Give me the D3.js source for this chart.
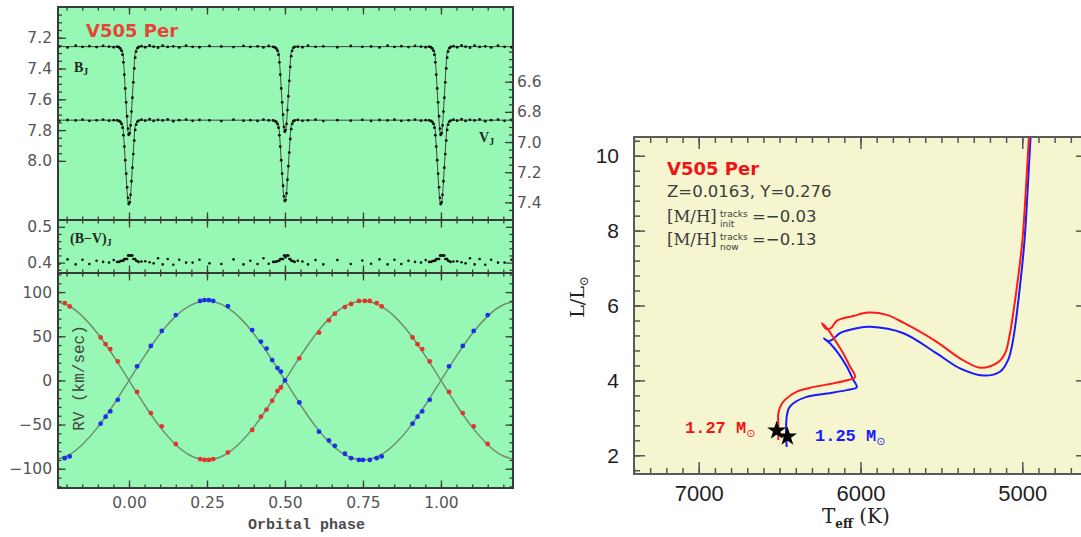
<!DOCTYPE html>
<html><head><meta charset="utf-8">
<script src="https://cdn.jsdelivr.net/npm/d3@7/dist/d3.min.js"></script>
<style>html,body{margin:0;padding:0;background:#fff;}svg{display:block;}</style>
</head><body>
<svg id="chart" width="1081" height="537"></svg>
<script>
// ================= DATA =================
// Light-curve model: eclipse profiles (phase offset from eclipse centre -> magnitude)
const ecOffset   = [-0.04,-0.03,-0.023,-0.019,-0.016,-0.012,-0.008,-0.004,0,0.004,0.008,0.012,0.016,0.019,0.023,0.03,0.04];
const bPrimary   = [7.258,7.262,7.275,7.31,7.40,7.54,7.68,7.80,7.84,7.80,7.68,7.54,7.40,7.31,7.275,7.262,7.258];
const bSecondary = [7.258,7.262,7.275,7.31,7.40,7.53,7.67,7.78,7.82,7.78,7.67,7.53,7.40,7.31,7.275,7.262,7.258];
const vPrimary   = [6.855,6.859,6.872,6.906,6.993,7.129,7.265,7.381,7.42,7.381,7.265,7.129,6.993,6.906,6.872,6.859,6.855];
const vSecondary = [6.855,6.859,6.872,6.906,6.993,7.12,7.255,7.36,7.40,7.36,7.255,7.12,6.993,6.906,6.872,6.859,6.855];
const eclipseCenters = [0, 0.5, 1.0];
const bOutside = 7.258, vOutside = 6.855;

// Light-curve observations (phase, B_J, V_J)
const lcPhase = [0.962,0.968,0.972,0.976,0.979,0.982,0.985,0.988,0.991,0.994,0.997,0.999,0.002,0.005,0.008,0.011,0.014,0.017,0.020,0.023,0.027,0.031,
  0.462,0.468,0.472,0.476,0.479,0.482,0.485,0.488,0.491,0.494,0.497,0.499,0.502,0.505,0.508,0.511,0.514,0.517,0.520,0.523,0.527,0.531,
  0.040,0.052,0.066,0.079,0.093,0.108,0.124,0.142,0.161,0.183,0.204,0.226,0.258,0.296,0.335,0.367,0.389,0.412,0.431,0.448,
  0.541,0.556,0.574,0.598,0.623,0.668,0.711,0.748,0.776,0.803,0.829,0.851,0.873,0.896,0.917,0.936,0.951];
const lcB = [7.258,7.262,7.270,7.285,7.31,7.36,7.44,7.53,7.62,7.71,7.79,7.83,7.82,7.77,7.68,7.59,7.49,7.40,7.33,7.29,7.268,7.260,
  7.259,7.263,7.27,7.285,7.31,7.36,7.44,7.53,7.62,7.70,7.78,7.81,7.80,7.76,7.67,7.58,7.48,7.39,7.32,7.285,7.266,7.259,
  7.255,7.262,7.250,7.258,7.265,7.252,7.260,7.256,7.263,7.251,7.259,7.262,7.254,7.257,7.261,7.253,7.260,7.256,7.263,7.254,
  7.258,7.262,7.251,7.259,7.256,7.262,7.254,7.259,7.257,7.263,7.252,7.260,7.255,7.261,7.253,7.258,7.262];
const lcV = [6.856,6.860,6.866,6.880,6.905,6.955,7.03,7.12,7.21,7.30,7.37,7.41,7.40,7.35,7.26,7.17,7.08,6.99,6.92,6.885,6.864,6.858,
  6.857,6.861,6.867,6.881,6.905,6.955,7.03,7.12,7.21,7.29,7.36,7.39,7.385,7.34,7.25,7.16,7.07,6.98,6.915,6.88,6.862,6.857,
  6.852,6.858,6.849,6.860,6.853,6.857,6.850,6.862,6.855,6.851,6.859,6.854,6.856,6.861,6.852,6.858,6.855,6.860,6.851,6.857,
  6.853,6.859,6.856,6.852,6.861,6.855,6.858,6.853,6.860,6.854,6.857,6.852,6.859,6.856,6.851,6.858,6.855];

// Radial velocities (km/s): primary (blue) and secondary (red)
const rvPhaseBlue = [0.026,0.07,0.105,0.15,0.228,0.242,0.256,0.27,0.317,0.395,0.423,0.441,0.459,0.476,0.487,0.50,0.546,0.609,0.641,0.66,0.692,0.712,0.737,0.75,0.772,0.794,0.81,0.909,0.925,0.940,0.964];
const rvBlue      = [16,39,56,74,90,91,91,90,84,57,44,36,23,14,10,0,-25,-58,-68,-74,-83,-88,-90,-90,-90,-88,-86,-49,-41,-35,-22];
const rvPhaseRed  = [0.026,0.07,0.105,0.15,0.228,0.242,0.256,0.27,0.317,0.395,0.423,0.441,0.459,0.476,0.487,0.546,0.609,0.641,0.66,0.692,0.712,0.737,0.756,0.772,0.794,0.81,0.909,0.925,0.940,0.964];
const rvRed       = [-13,-37,-52,-72,-89,-90,-90,-89,-81.5,-56,-41,-33,-23,-12,-8,25,54,68,75.5,83,86.5,90,90,90,87.6,83.8,48.7,41,35.5,21.5];
// Orbit model curves
const rvModelPhase = [-0.25,-0.20,-0.15,-0.10,-0.05,0,0.05,0.10,0.15,0.20,0.25,0.30,0.35,0.40,0.45,0.50,0.55,0.60,0.65,0.70,0.75,0.80,0.85,0.90,0.95,1.00,1.05,1.10,1.15,1.20,1.25];
const rvModelBlue  = [-90,-85.6,-72.8,-52.9,-27.8,0,27.8,52.9,72.8,85.6,90,85.6,72.8,52.9,27.8,0,-27.8,-52.9,-72.8,-85.6,-90,-85.6,-72.8,-52.9,-27.8,0,27.8,52.9,72.8,85.6,90];
const rvModelRed   = [90,85.6,72.8,52.9,27.8,0,-27.8,-52.9,-72.8,-85.6,-90,-85.6,-72.8,-52.9,-27.8,0,27.8,52.9,72.8,85.6,90,85.6,72.8,52.9,27.8,0,-27.8,-52.9,-72.8,-85.6,-90];

// HR diagram: evolutionary tracks (Teff K, L/Lsun)
const trackRedT = [6508,6508,6508,6491,6467,6394,6292,6168,6096,6034,6065,6106,6158,6199,6238,6210,6182,6147,6044,5952,5838,5735,5529,5385,5261,5158,5107,5076,5036,4999,4977,4960,4954];
const trackRedL = [2.41,2.81,3.12,3.34,3.48,3.70,3.82,3.92,3.99,4.09,4.37,4.72,5.08,5.35,5.53,5.37,5.40,5.59,5.72,5.81,5.75,5.54,5.03,4.59,4.34,4.46,4.72,5.26,6.41,7.75,9.16,10.42,10.74];
const trackBlueT = [6456,6460,6456,6442,6415,6333,6209,6085,6023,6044,6085,6137,6189,6226,6201,6176,6127,6023,5941,5735,5529,5385,5241,5138,5088,5057,5017,4986,4966,4950,4945];
const trackBlueL = [2.22,2.59,3.03,3.26,3.39,3.56,3.65,3.74,3.82,4.01,4.37,4.72,4.99,5.12,5.05,5.08,5.26,5.39,5.43,5.26,4.72,4.32,4.13,4.23,4.54,5.08,6.41,7.75,9.16,10.42,10.74];
const starT = [6518, 6452];
const starL = [2.66, 2.50];

// Tick labels
const bTicks = [7.2,7.4,7.6,7.8,8.0];
const vTicks = [6.6,6.8,7.0,7.2,7.4];
const bvTicks = [0.4,0.5];
const rvTicks = [-100,-50,0,50,100];
const phaseTicks = [0,0.25,0.5,0.75,1.0];
const teffTicks = [5000,6000,7000];
const lumTicks = [2,4,6,8,10];

// ================= DRAWING =================
const svg = d3.select("#chart");
const GREEN = "#97f7b4", YELLOW = "#f5f5cf";
const numFont = "DejaVu Sans";

// ---- Left panel geometry ----
const LX0 = 58, LX1 = 513, LY0 = 7, LD1 = 220, LD2 = 273, LY1 = 488;
const phDom = [-0.2276, 1.231];
const dataMax = 1.2;   // observations are plotted up to this phase
const xPh = d3.scaleLinear().domain(phDom).range([LX0, LX1]);
const yB  = d3.scaleLinear().domain([7.0006, 8.384]).range([LY0, LD1]);
const yV  = d3.scaleLinear().domain([6.1045, 7.517]).range([LY0, LD1]);
const yBV = d3.scaleLinear().domain([0.371, 0.519]).range([LD2, LD1]);
const yRV = d3.scaleLinear().domain([-121.8, 121.6]).range([LY1, LD2]);

const defs = svg.append("defs");
function clip(id, x, y, w, h){ defs.append("clipPath").attr("id", id).append("rect").attr("x",x).attr("y",y).attr("width",w).attr("height",h); }
clip("cLC", LX0, LY0, LX1-LX0, LD1-LY0);
clip("cBV", LX0, LD1, LX1-LX0, LD2-LD1);
clip("cRV", LX0, LD2, LX1-LX0, LY1-LD2);

svg.append("rect").attr("x",LX0).attr("y",LY0).attr("width",LX1-LX0).attr("height",LY1-LY0).attr("fill",GREEN);

function tickAxis(axisFn, scale, values, size, tx, ty, color, w){
  const a = axisFn(scale).tickValues(values).tickSize(size).tickFormat("");
  const g = svg.append("g").attr("transform", `translate(${tx},${ty})`).call(a);
  g.select(".domain").remove();
  g.selectAll("line").attr("stroke", color || "#3c3c3c").attr("stroke-width", w || 1.3);
  return g;
}
function labelAxis(axisFn, scale, values, pad, tx, ty, fmt, size, color, family){
  const a = axisFn(scale).tickValues(values).tickSize(0).tickPadding(pad).tickFormat(fmt);
  const g = svg.append("g").attr("transform", `translate(${tx},${ty})`).call(a);
  g.select(".domain").remove();
  g.selectAll("text").attr("font-family", family || numFont).attr("font-size", size).attr("fill", color);
  return g;
}
function wrap(p){ return [p-1, p, p+1].filter(q => q >= phDom[0] && q <= dataMax); }

// ---- Light curves ----
function modelPoints(outside, prim, sec){
  const pts = [[phDom[0]-0.01, outside]];
  eclipseCenters.forEach(c => {
    const prof = (Math.abs(c - 0.5) < 1e-9) ? sec : prim;
    ecOffset.forEach((o, i) => pts.push([c + o, prof[i]]));
  });
  pts.push([phDom[1]+0.01, outside]);
  return pts;
}
const gLC = svg.append("g").attr("clip-path", "url(#cLC)");
const lineB = d3.line().x(d => xPh(d[0])).y(d => yB(d[1])).curve(d3.curveMonotoneX);
const lineV = d3.line().x(d => xPh(d[0])).y(d => yV(d[1])).curve(d3.curveMonotoneX);
gLC.append("path").attr("d", lineB(modelPoints(bOutside, bPrimary, bSecondary))).attr("fill","none").attr("stroke","#333").attr("stroke-width",0.9);
gLC.append("path").attr("d", lineV(modelPoints(vOutside, vPrimary, vSecondary))).attr("fill","none").attr("stroke","#333").attr("stroke-width",0.9);
const lcObs = [];
lcPhase.forEach((p, i) => [p-1, p, p+1].filter(q => q >= phDom[0] && q <= phDom[1]).forEach(q => lcObs.push({p:q, b:lcB[i], v:lcV[i]})));
gLC.selectAll("circle.b").data(lcObs).join("circle").attr("class","b")
  .attr("cx", d => xPh(d.p)).attr("cy", d => yB(d.b)).attr("r", 1.4).attr("fill", "#111");
gLC.selectAll("circle.v").data(lcObs).join("circle").attr("class","v")
  .attr("cx", d => xPh(d.p)).attr("cy", d => yV(d.v)).attr("r", 1.4).attr("fill", "#111");

// ---- B-V ----
const gBV = svg.append("g").attr("clip-path", "url(#cBV)");
gBV.selectAll("circle").data(lcObs).join("circle")
  .attr("cx", d => xPh(d.p)).attr("cy", d => yBV(d.b - d.v)).attr("r", 1.3).attr("fill", "#111");

// ---- RV ----
const gRV = svg.append("g").attr("clip-path", "url(#cRV)");
const rvLine = d3.line().x(d => xPh(d[0])).y(d => yRV(d[1])).curve(d3.curveNatural);
gRV.append("path").attr("d", rvLine(rvModelPhase.map((p,i)=>[p, rvModelBlue[i]]))).attr("fill","none").attr("stroke","#6f8f74").attr("stroke-width",1.5);
gRV.append("path").attr("d", rvLine(rvModelPhase.map((p,i)=>[p, rvModelRed[i]]))).attr("fill","none").attr("stroke","#6f8f74").attr("stroke-width",1.5);
const rvR = [], rvBl = [];
rvPhaseRed.forEach((p,i) => wrap(p).forEach(q => rvR.push([q, rvRed[i]])));
rvPhaseBlue.forEach((p,i) => wrap(p).forEach(q => rvBl.push([q, rvBlue[i]])));
gRV.selectAll("circle.r").data(rvR).join("circle").attr("class","r")
  .attr("cx", d => xPh(d[0])).attr("cy", d => yRV(d[1])).attr("r", 2.4).attr("fill", "#e4352c");
gRV.selectAll("circle.bl").data(rvBl).join("circle").attr("class","bl")
  .attr("cx", d => xPh(d[0])).attr("cy", d => yRV(d[1])).attr("r", 2.4).attr("fill", "#1f2ee8");

// ---- Left panel ticks ----
const phMinor = d3.range(-4, 25).map(i => i*0.05);
[[LY0, d3.axisBottom], [LD1, d3.axisTop], [LD1, d3.axisBottom], [LD2, d3.axisTop], [LD2, d3.axisBottom], [LY1, d3.axisTop]].forEach(([y, f]) => {
  tickAxis(f, xPh, phMinor, 3.5, 0, y);
  tickAxis(f, xPh, phaseTicks, 7.5, 0, y);
});
// B axis (left, top panel)
tickAxis(d3.axisRight, yB, d3.range(1, 21).map(i => 7 + i*0.05), 4, LX0, 0);
tickAxis(d3.axisRight, yB, bTicks, 8, LX0, 0);
// V axis (right, top panel)
tickAxis(d3.axisLeft, yV, d3.range(8, 30).map(i => 6 + i*0.05), 4, LX1, 0);
tickAxis(d3.axisLeft, yV, vTicks, 8, LX1, 0);
// B-V
tickAxis(d3.axisRight, yBV, [0.38,0.42,0.44,0.46,0.48], 3.5, LX0, 0);
tickAxis(d3.axisRight, yBV, bvTicks, 7, LX0, 0);
tickAxis(d3.axisLeft, yBV, [0.38,0.42,0.44,0.46,0.48], 3.5, LX1, 0);
tickAxis(d3.axisLeft, yBV, bvTicks, 7, LX1, 0);
// RV
const rvMinor = d3.range(-12, 13).map(i => i*10);
tickAxis(d3.axisRight, yRV, rvMinor, 3.5, LX0, 0);
tickAxis(d3.axisRight, yRV, rvTicks, 7.5, LX0, 0);
tickAxis(d3.axisLeft, yRV, rvMinor, 3.5, LX1, 0);
tickAxis(d3.axisLeft, yRV, rvTicks, 7.5, LX1, 0);

// frame and dividers
svg.append("rect").attr("x",LX0).attr("y",LY0).attr("width",LX1-LX0).attr("height",LY1-LY0)
  .attr("fill","none").attr("stroke","#3a3a3a").attr("stroke-width",2);
[LD1, LD2].forEach(y => svg.append("line").attr("x1",LX0).attr("x2",LX1).attr("y1",y).attr("y2",y).attr("stroke","#3a3a3a").attr("stroke-width",2));

// Left panel tick labels
const f1 = d3.format(".1f");
const lblCol = "#555";
labelAxis(d3.axisLeft, yB, bTicks, 6, LX0, 0, f1, 15.5, lblCol);
labelAxis(d3.axisRight, yV, vTicks, 4, LX1, 0, f1, 15.5, lblCol);
labelAxis(d3.axisLeft, yBV, bvTicks, 6, LX0, 0, f1, 15.5, lblCol);
labelAxis(d3.axisLeft, yRV, rvTicks, 6, LX0, 0, d => d < 0 ? "\u2212" + Math.abs(d) : String(d), 15.5, lblCol);
labelAxis(d3.axisBottom, xPh, phaseTicks, 9, 0, LY1, d3.format(".2f"), 15.5, lblCol);

// Left panel texts
svg.append("text").attr("x",86).attr("y",37).attr("font-family","DejaVu Sans").attr("font-weight","bold")
  .attr("font-size",18).attr("fill","#e6453a").text("V505 Per");
function subLabel(x, y, main, sub, size){
  const t = svg.append("text").attr("x",x).attr("y",y).attr("font-family","Liberation Serif").attr("font-weight","bold")
    .attr("font-size",size).attr("fill","#262626");
  t.append("tspan").text(main);
  t.append("tspan").attr("dy",3).attr("font-size",size*0.7).text(sub);
}
subLabel(74, 72, "B", "J", 14);
subLabel(479, 142, "V", "J", 14);
subLabel(70, 243, "(B\u2212V)", "J", 14);
svg.append("text").attr("transform","translate(84,378) rotate(-90)").attr("text-anchor","middle")
  .attr("font-family","Liberation Mono").attr("font-size",16).attr("fill","#454545").text("RV (km/sec)");
svg.append("text").attr("x",248).attr("y",529).attr("font-family","Liberation Mono").attr("font-weight","bold")
  .attr("font-size",15).attr("fill","#4a4a4a").text("Orbital phase");

// ================= HR diagram =================
const RX0 = 634, RX1 = 1087, RY0 = 137, RY1 = 474;
const xT = d3.scaleLinear().domain([7400, 4600]).range([RX0, RX1]);
const yL = d3.scaleLinear().domain([1.5, 10.5]).range([RY1, RY0]);
clip("cHR", RX0, RY0, RX1-RX0, RY1-RY0);
svg.append("rect").attr("x",RX0).attr("y",RY0).attr("width",RX1-RX0).attr("height",RY1-RY0).attr("fill",YELLOW);

const gHR = svg.append("g").attr("clip-path","url(#cHR)");
const trLine = d3.line().x(d => xT(d[0])).y(d => yL(d[1])).curve(d3.curveCatmullRom.alpha(0.5));
gHR.append("path").attr("d", trLine(trackBlueT.map((t,i)=>[t, trackBlueL[i]]))).attr("fill","none").attr("stroke","#1a1aff").attr("stroke-width",2);
gHR.append("path").attr("d", trLine(trackRedT.map((t,i)=>[t, trackRedL[i]]))).attr("fill","none").attr("stroke","#ff1a1a").attr("stroke-width",2);
gHR.selectAll("path.star").data(starT.map((t,i)=>[t, starL[i]])).join("path").attr("class","star")
  .attr("transform", d => `translate(${xT(d[0])},${yL(d[1])})`)
  .attr("d", d3.symbol().type(d3.symbolStar).size(75)).attr("fill","#000").attr("stroke","#000").attr("stroke-width",1.2);

const hrTick = "#555";
const tMinor = d3.range(4600, 7401, 100);
tickAxis(d3.axisBottom, xT, tMinor, 6, 0, RY0, hrTick, 1.5);
tickAxis(d3.axisBottom, xT, teffTicks, 12, 0, RY0, hrTick, 1.5);
tickAxis(d3.axisTop, xT, tMinor, 6, 0, RY1, hrTick, 1.5);
tickAxis(d3.axisTop, xT, teffTicks, 12, 0, RY1, hrTick, 1.5);
const lMinor = d3.range(4, 27).map(i => i*0.4);
tickAxis(d3.axisRight, yL, lMinor, 6, RX0, 0, hrTick, 1.5);
tickAxis(d3.axisRight, yL, lumTicks, 11, RX0, 0, hrTick, 1.5);
tickAxis(d3.axisLeft, yL, lMinor, 6, RX1, 0, hrTick, 1.5);
tickAxis(d3.axisLeft, yL, lumTicks, 11, RX1, 0, hrTick, 1.5);
svg.append("rect").attr("x",RX0).attr("y",RY0).attr("width",RX1-RX0).attr("height",RY1-RY0)
  .attr("fill","none").attr("stroke","#5a5a5a").attr("stroke-width",2);

labelAxis(d3.axisLeft, yL, lumTicks, 15, RX0, 0, d => String(d), 21, "#1e1e1e", "Liberation Sans");
labelAxis(d3.axisBottom, xT, teffTicks, 11, 0, RY1, d => String(d), 22, "#1e1e1e", "Liberation Sans");

// axis titles
const lt = svg.append("text").attr("transform","translate(584,297) rotate(-90)").attr("text-anchor","middle")
  .attr("font-family","DejaVu Serif").attr("font-size",19).attr("fill","#222");
lt.append("tspan").text("L/L");
lt.append("tspan").attr("dy",4).attr("font-size",12).text("\u2299");
const xt = svg.append("text").attr("x",822).attr("y",523).attr("font-family","DejaVu Serif").attr("font-size",20).attr("fill","#222");
xt.append("tspan").text("T");
xt.append("tspan").attr("dy",5).attr("font-size",12).attr("font-weight","bold").text("eff");
xt.append("tspan").attr("dy",-5).text(" (K)");

// annotations
svg.append("text").attr("x",667).attr("y",175).attr("font-family","DejaVu Sans").attr("font-weight","bold")
  .attr("font-size",18).attr("fill","#f01414").text("V505 Per");
svg.append("text").attr("x",667).attr("y",197).attr("font-family","DejaVu Sans")
  .attr("font-size",16.5).attr("fill","#3c3c3c").text("Z=0.0163, Y=0.276");
function mh(y, sub, val){
  svg.append("text").attr("x",667).attr("y",y).attr("font-family","DejaVu Serif").attr("font-size",16.5).attr("fill","#3c3c3c").text("[M/H]");
  svg.append("text").attr("x",720).attr("y",y-5).attr("font-family","DejaVu Sans").attr("font-size",9).attr("fill","#3c3c3c").text("tracks");
  svg.append("text").attr("x",720).attr("y",y+5).attr("font-family","DejaVu Sans").attr("font-size",9).attr("fill","#3c3c3c").text(sub);
  svg.append("text").attr("x",752).attr("y",y).attr("font-family","DejaVu Sans").attr("font-size",16.5).attr("fill","#3c3c3c").text(val);
}
mh(222, "init", "=\u22120.03");
mh(245, "now", "=\u22120.13");

function massLabel(x, y, txt, col){
  const t = svg.append("text").attr("x",x).attr("y",y).attr("font-family","Liberation Mono").attr("font-weight","bold")
    .attr("font-size",17).attr("fill",col);
  t.append("tspan").text(txt);
  t.append("tspan").attr("dy",4).attr("font-size",11).attr("font-weight","normal").attr("font-family","DejaVu Sans").text("\u2299");
}
massLabel(685, 433, "1.27 M", "#f01414");
massLabel(815, 441, "1.25 M", "#1a1aff");
</script>
</body></html>
